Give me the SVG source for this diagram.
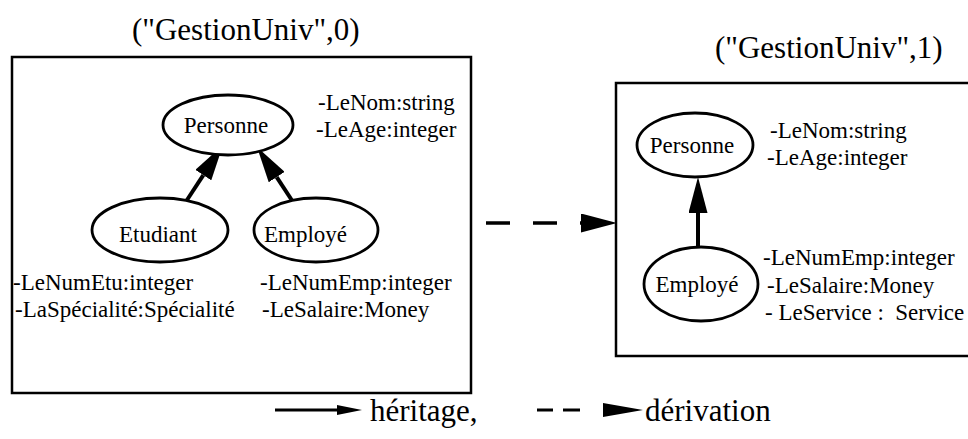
<svg xmlns="http://www.w3.org/2000/svg" width="968" height="439" viewBox="0 0 968 439" font-family="'Liberation Serif', 'DejaVu Serif', serif">
<style>
text{font-family:'Liberation Serif','DejaVu Serif',serif;fill:#000}
.t{font-size:31px}
.n{font-size:23px}
.a{font-size:23px}
.box{fill:none;stroke:#000;stroke-width:2.5}
.el{fill:#fff;stroke:#000;stroke-width:2.8}
.inh{stroke:#000;stroke-width:4;fill:none}
.der{stroke:#000;stroke-width:3.5;fill:none;stroke-dasharray:24 23}
</style>
<defs>
<marker id="hd" viewBox="0 0 36 19" refX="0" refY="9.5" markerWidth="36" markerHeight="19" markerUnits="userSpaceOnUse" orient="auto"><path d="M0,0 L36,9.5 L0,19 z" fill="#000"/></marker>
<marker id="hl1" viewBox="0 0 25 10" refX="0" refY="5" markerWidth="25" markerHeight="10" markerUnits="userSpaceOnUse" orient="auto"><path d="M0,0 L25,5 L0,10 z" fill="#000"/></marker>
<marker id="hl2" viewBox="0 0 40 14" refX="0" refY="7" markerWidth="40" markerHeight="14" markerUnits="userSpaceOnUse" orient="auto"><path d="M0,0 L40,7 L0,14 z" fill="#000"/></marker>
</defs>
<g id="schema0">
<text class="t" x="132" y="40">("GestionUniv",0)</text>
<rect class="box" x="12" y="57" width="459" height="336"/>
</g>
<g id="schema1">
<text class="t" x="715" y="58">("GestionUniv",1)</text>
<rect class="box" x="616" y="83" width="362" height="273"/>
</g>
<g id="connectors">
<path class="inh" d="M187,200 L203.3,175.1" marker-end="url(#hd)"/>
<path class="inh" d="M293,202 L276.7,177.1" marker-end="url(#hd)"/>
<path class="inh" d="M698,246 L698,213" marker-end="url(#hd)"/>
<path class="der" d="M486,223 L581,223" marker-end="url(#hd)"/>
</g>
<g id="personne0">
<ellipse class="el" cx="228" cy="125" rx="65" ry="30"/>
<text class="n" x="226" y="133" text-anchor="middle">Personne</text>
<text class="a" x="318" y="110">-LeNom:string</text>
<text class="a" x="316" y="137">-LeAge:integer</text>
</g>
<g id="etudiant0">
<ellipse class="el" cx="160" cy="230" rx="68" ry="32"/>
<text class="n" x="158" y="242" text-anchor="middle">Etudiant</text>
<text class="a" x="13" y="290">-LeNumEtu:integer</text>
<text class="a" x="15" y="317">-LaSpécialité:Spécialité</text>
</g>
<g id="employe0">
<ellipse class="el" cx="316" cy="230" rx="62" ry="32"/>
<text class="n" x="264" y="242">Employé</text>
<text class="a" x="260" y="290">-LeNumEmp:integer</text>
<text class="a" x="262" y="317">-LeSalaire:Money</text>
</g>
<g id="personne1">
<ellipse class="el" cx="695" cy="145" rx="58" ry="32"/>
<text class="n" x="692" y="153" text-anchor="middle">Personne</text>
<text class="a" x="770" y="138">-LeNom:string</text>
<text class="a" x="767" y="165">-LeAge:integer</text>
</g>
<g id="employe1">
<ellipse class="el" cx="701" cy="284" rx="57" ry="37"/>
<text class="n" x="697" y="292" text-anchor="middle">Employé</text>
<text class="a" x="763" y="265">-LeNumEmp:integer</text>
<text class="a" x="767" y="293">-LeSalaire:Money</text>
<text class="a" x="765" y="320" xml:space="preserve">- LeService :  Service</text>
</g>
<g id="legend">
<path d="M275,410 L337,410" stroke="#000" stroke-width="3" marker-end="url(#hl1)"/>
<text class="t" x="370" y="421">héritage,</text>
<path d="M537,410 L603,410" stroke="#000" stroke-width="3" stroke-dasharray="16 10 17 50" marker-end="url(#hl2)"/>
<text class="t" x="645" y="421">dérivation</text>
</g>
</svg>
